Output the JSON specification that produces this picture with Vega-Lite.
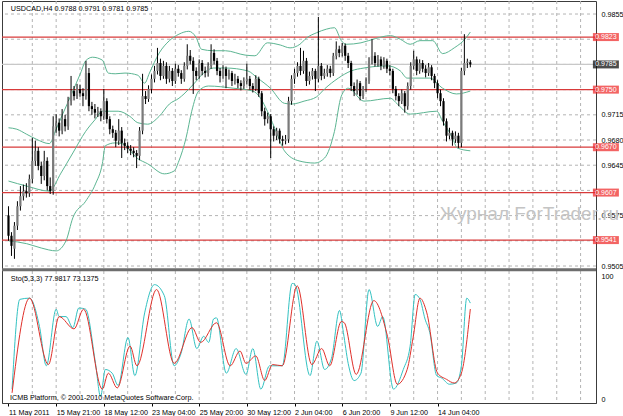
{
"$schema": "https://vega.github.io/schema/vega-lite/v6.json",
"padding": 0,
"background": "white",
"width": 594,
"height": 402,
"config": {"view": {"stroke": "#3c3c3c", "strokeWidth": 1}},
"resolve": {"scale": {"y": "independent"}, "axis": {"y": "independent", "x": "independent"}},
"datasets": {
"candles": [
{"i":0,"o":0.9575,"h":0.9588,"l":0.954,"c":0.9547},
{"i":1,"o":0.9547,"h":0.9552,"l":0.9519,"c":0.9533},
{"i":2,"o":0.9529,"h":0.9566,"l":0.9515,"c":0.9561},
{"i":3,"o":0.9561,"h":0.9595,"l":0.9555,"c":0.9588},
{"i":4,"o":0.9588,"h":0.9616,"l":0.9582,"c":0.9602},
{"i":5,"o":0.9602,"h":0.9618,"l":0.9596,"c":0.9609},
{"i":6,"o":0.9609,"h":0.962,"l":0.96,"c":0.9606},
{"i":7,"o":0.9606,"h":0.9632,"l":0.9601,"c":0.9626},
{"i":8,"o":0.9626,"h":0.9683,"l":0.962,"c":0.9651},
{"i":9,"o":0.9651,"h":0.9679,"l":0.9644,"c":0.9665},
{"i":10,"o":0.9665,"h":0.967,"l":0.9638,"c":0.9644},
{"i":11,"o":0.9644,"h":0.965,"l":0.9619,"c":0.963},
{"i":12,"o":0.963,"h":0.9665,"l":0.9624,"c":0.9651},
{"i":13,"o":0.9651,"h":0.9656,"l":0.961,"c":0.9616},
{"i":14,"o":0.9616,"h":0.9628,"l":0.9605,"c":0.9609},
{"i":15,"o":0.9609,"h":0.9713,"l":0.9604,"c":0.9699},
{"i":16,"o":0.9699,"h":0.9716,"l":0.969,"c":0.9704},
{"i":17,"o":0.9704,"h":0.971,"l":0.9685,"c":0.9693},
{"i":18,"o":0.9693,"h":0.9723,"l":0.9688,"c":0.9709},
{"i":19,"o":0.9709,"h":0.9715,"l":0.9692,"c":0.9699},
{"i":20,"o":0.9699,"h":0.974,"l":0.9694,"c":0.9734},
{"i":21,"o":0.9734,"h":0.9769,"l":0.9728,"c":0.9748},
{"i":22,"o":0.9748,"h":0.9755,"l":0.9735,"c":0.9741},
{"i":23,"o":0.9741,"h":0.9758,"l":0.9737,"c":0.9751},
{"i":24,"o":0.9751,"h":0.9757,"l":0.974,"c":0.9745},
{"i":25,"o":0.9745,"h":0.9752,"l":0.9727,"c":0.9741},
{"i":26,"o":0.9741,"h":0.979,"l":0.9736,"c":0.9773},
{"i":27,"o":0.9773,"h":0.978,"l":0.972,"c":0.9727},
{"i":28,"o":0.9727,"h":0.9733,"l":0.9715,"c":0.9723},
{"i":29,"o":0.9723,"h":0.973,"l":0.971,"c":0.9718},
{"i":30,"o":0.9718,"h":0.9726,"l":0.9712,"c":0.972},
{"i":31,"o":0.972,"h":0.9724,"l":0.9706,"c":0.9713},
{"i":32,"o":0.9713,"h":0.9751,"l":0.9708,"c":0.9734},
{"i":33,"o":0.9734,"h":0.9738,"l":0.9703,"c":0.9709},
{"i":34,"o":0.9709,"h":0.9713,"l":0.9688,"c":0.9695},
{"i":35,"o":0.9695,"h":0.97,"l":0.9683,"c":0.969},
{"i":36,"o":0.969,"h":0.9694,"l":0.967,"c":0.9679},
{"i":37,"o":0.9679,"h":0.9709,"l":0.9673,"c":0.9693},
{"i":38,"o":0.9693,"h":0.9698,"l":0.9655,"c":0.9676},
{"i":39,"o":0.9676,"h":0.9682,"l":0.9666,"c":0.9672},
{"i":40,"o":0.9672,"h":0.9677,"l":0.9662,"c":0.9668},
{"i":41,"o":0.9668,"h":0.9673,"l":0.9659,"c":0.9665},
{"i":42,"o":0.9665,"h":0.967,"l":0.9656,"c":0.9662},
{"i":43,"o":0.9662,"h":0.9666,"l":0.9641,"c":0.9658},
{"i":44,"o":0.9658,"h":0.9698,"l":0.9652,"c":0.9693},
{"i":45,"o":0.9693,"h":0.9772,"l":0.9688,"c":0.9741},
{"i":46,"o":0.9741,"h":0.9748,"l":0.973,"c":0.9737},
{"i":47,"o":0.9737,"h":0.9756,"l":0.9733,"c":0.9751},
{"i":48,"o":0.9751,"h":0.9771,"l":0.9745,"c":0.9765},
{"i":49,"o":0.9765,"h":0.9783,"l":0.976,"c":0.9776},
{"i":50,"o":0.9776,"h":0.9808,"l":0.9771,"c":0.9787},
{"i":51,"o":0.9787,"h":0.9793,"l":0.9763,"c":0.9769},
{"i":52,"o":0.9769,"h":0.979,"l":0.9765,"c":0.9783},
{"i":53,"o":0.9783,"h":0.9788,"l":0.9758,"c":0.9765},
{"i":54,"o":0.9765,"h":0.9783,"l":0.976,"c":0.9776},
{"i":55,"o":0.9776,"h":0.978,"l":0.9755,"c":0.9762},
{"i":56,"o":0.9762,"h":0.9786,"l":0.9758,"c":0.9779},
{"i":57,"o":0.9779,"h":0.9784,"l":0.9768,"c":0.9773},
{"i":58,"o":0.9773,"h":0.9777,"l":0.9758,"c":0.9765},
{"i":59,"o":0.9765,"h":0.9788,"l":0.9761,"c":0.9783},
{"i":60,"o":0.9783,"h":0.9813,"l":0.9778,"c":0.9797},
{"i":61,"o":0.9797,"h":0.9805,"l":0.9785,"c":0.979},
{"i":62,"o":0.979,"h":0.9795,"l":0.9744,"c":0.9776},
{"i":63,"o":0.9776,"h":0.9781,"l":0.9763,"c":0.9769},
{"i":64,"o":0.9769,"h":0.9792,"l":0.9765,"c":0.9787},
{"i":65,"o":0.9787,"h":0.9791,"l":0.977,"c":0.9776},
{"i":66,"o":0.9776,"h":0.9782,"l":0.9767,"c":0.9773},
{"i":67,"o":0.9773,"h":0.9788,"l":0.9768,"c":0.9783},
{"i":68,"o":0.9783,"h":0.9813,"l":0.9779,"c":0.9801},
{"i":69,"o":0.9801,"h":0.9806,"l":0.9785,"c":0.979},
{"i":70,"o":0.979,"h":0.9794,"l":0.977,"c":0.9776},
{"i":71,"o":0.9776,"h":0.978,"l":0.976,"c":0.9769},
{"i":72,"o":0.9769,"h":0.9784,"l":0.9765,"c":0.9779},
{"i":73,"o":0.9779,"h":0.9782,"l":0.9752,"c":0.9769},
{"i":74,"o":0.9769,"h":0.9778,"l":0.9764,"c":0.9773},
{"i":75,"o":0.9773,"h":0.9776,"l":0.9755,"c":0.9762},
{"i":76,"o":0.9762,"h":0.9772,"l":0.9757,"c":0.9765},
{"i":77,"o":0.9765,"h":0.9769,"l":0.9752,"c":0.9759},
{"i":78,"o":0.9759,"h":0.9763,"l":0.9749,"c":0.9755},
{"i":79,"o":0.9755,"h":0.9767,"l":0.9751,"c":0.9762},
{"i":80,"o":0.9762,"h":0.9786,"l":0.9757,"c":0.9765},
{"i":81,"o":0.9765,"h":0.9769,"l":0.975,"c":0.9755},
{"i":82,"o":0.9755,"h":0.9759,"l":0.9746,"c":0.9751},
{"i":83,"o":0.9751,"h":0.977,"l":0.9748,"c":0.9765},
{"i":84,"o":0.9765,"h":0.9768,"l":0.974,"c":0.9745},
{"i":85,"o":0.9745,"h":0.9748,"l":0.9713,"c":0.972},
{"i":86,"o":0.972,"h":0.9725,"l":0.97,"c":0.9709},
{"i":87,"o":0.9709,"h":0.9718,"l":0.9703,"c":0.9713},
{"i":88,"o":0.9713,"h":0.9716,"l":0.9655,"c":0.9695},
{"i":89,"o":0.9695,"h":0.9699,"l":0.9678,"c":0.9686},
{"i":90,"o":0.9686,"h":0.9697,"l":0.968,"c":0.9693},
{"i":91,"o":0.9693,"h":0.9696,"l":0.9675,"c":0.9681},
{"i":92,"o":0.9681,"h":0.9686,"l":0.9672,"c":0.9679},
{"i":93,"o":0.9679,"h":0.9687,"l":0.9674,"c":0.9681},
{"i":94,"o":0.9681,"h":0.974,"l":0.9676,"c":0.9734},
{"i":95,"o":0.9734,"h":0.977,"l":0.9729,"c":0.9765},
{"i":96,"o":0.9765,"h":0.9779,"l":0.9758,"c":0.9773},
{"i":97,"o":0.9773,"h":0.9788,"l":0.9768,"c":0.9783},
{"i":98,"o":0.9783,"h":0.9808,"l":0.977,"c":0.9776},
{"i":99,"o":0.9776,"h":0.9804,"l":0.9772,"c":0.979},
{"i":100,"o":0.979,"h":0.9794,"l":0.9755,"c":0.9762},
{"i":101,"o":0.9762,"h":0.9775,"l":0.9757,"c":0.9769},
{"i":102,"o":0.9769,"h":0.978,"l":0.9764,"c":0.9776},
{"i":103,"o":0.9776,"h":0.9779,"l":0.9748,"c":0.9765},
{"i":104,"o":0.9765,"h":0.9851,"l":0.976,"c":0.9783},
{"i":105,"o":0.9783,"h":0.9787,"l":0.9763,"c":0.9769},
{"i":106,"o":0.9769,"h":0.9779,"l":0.9765,"c":0.9773},
{"i":107,"o":0.9773,"h":0.9784,"l":0.9768,"c":0.9779},
{"i":108,"o":0.9779,"h":0.9783,"l":0.9767,"c":0.9773},
{"i":109,"o":0.9773,"h":0.9801,"l":0.9769,"c":0.9797},
{"i":110,"o":0.9797,"h":0.9817,"l":0.9792,"c":0.9806},
{"i":111,"o":0.9806,"h":0.9811,"l":0.9795,"c":0.9801},
{"i":112,"o":0.9801,"h":0.9815,"l":0.9796,"c":0.9811},
{"i":113,"o":0.9811,"h":0.9814,"l":0.979,"c":0.9797},
{"i":114,"o":0.9797,"h":0.9801,"l":0.978,"c":0.9787},
{"i":115,"o":0.9787,"h":0.979,"l":0.9748,"c":0.9755},
{"i":116,"o":0.9755,"h":0.976,"l":0.9741,"c":0.9748},
{"i":117,"o":0.9748,"h":0.9764,"l":0.9743,"c":0.9759},
{"i":118,"o":0.9759,"h":0.9762,"l":0.9735,"c":0.9741},
{"i":119,"o":0.9741,"h":0.9755,"l":0.9737,"c":0.9751},
{"i":120,"o":0.9751,"h":0.9767,"l":0.9747,"c":0.9762},
{"i":121,"o":0.9762,"h":0.9795,"l":0.9758,"c":0.979},
{"i":122,"o":0.979,"h":0.982,"l":0.9785,"c":0.9797},
{"i":123,"o":0.9797,"h":0.9802,"l":0.9782,"c":0.9787},
{"i":124,"o":0.9787,"h":0.9798,"l":0.9782,"c":0.9792},
{"i":125,"o":0.9792,"h":0.9796,"l":0.9777,"c":0.9783},
{"i":126,"o":0.9783,"h":0.9795,"l":0.9779,"c":0.979},
{"i":127,"o":0.979,"h":0.9793,"l":0.9773,"c":0.9779},
{"i":128,"o":0.9779,"h":0.9784,"l":0.977,"c":0.9776},
{"i":129,"o":0.9776,"h":0.9779,"l":0.9745,"c":0.9751},
{"i":130,"o":0.9751,"h":0.9755,"l":0.9735,"c":0.9741},
{"i":131,"o":0.9741,"h":0.9745,"l":0.9727,"c":0.9734},
{"i":132,"o":0.9734,"h":0.975,"l":0.973,"c":0.9745},
{"i":133,"o":0.9745,"h":0.9748,"l":0.9718,"c":0.9727},
{"i":134,"o":0.9727,"h":0.976,"l":0.9722,"c":0.9755},
{"i":135,"o":0.9755,"h":0.9788,"l":0.975,"c":0.9783},
{"i":136,"o":0.9783,"h":0.9804,"l":0.9778,"c":0.9792},
{"i":137,"o":0.9792,"h":0.9796,"l":0.977,"c":0.9776},
{"i":138,"o":0.9776,"h":0.9792,"l":0.9772,"c":0.9787},
{"i":139,"o":0.9787,"h":0.9791,"l":0.9774,"c":0.9779},
{"i":140,"o":0.9779,"h":0.9784,"l":0.9767,"c":0.9773},
{"i":141,"o":0.9773,"h":0.9787,"l":0.9769,"c":0.9781},
{"i":142,"o":0.9781,"h":0.9784,"l":0.9763,"c":0.9769},
{"i":143,"o":0.9769,"h":0.9772,"l":0.9752,"c":0.9759},
{"i":144,"o":0.9759,"h":0.9763,"l":0.9738,"c":0.9745},
{"i":145,"o":0.9745,"h":0.975,"l":0.9727,"c":0.9734},
{"i":146,"o":0.9734,"h":0.9738,"l":0.97,"c":0.9706},
{"i":147,"o":0.9706,"h":0.971,"l":0.9678,"c":0.9686},
{"i":148,"o":0.9686,"h":0.9697,"l":0.9681,"c":0.969},
{"i":149,"o":0.969,"h":0.9693,"l":0.9672,"c":0.9681},
{"i":150,"o":0.9681,"h":0.9692,"l":0.9676,"c":0.9686},
{"i":151,"o":0.9686,"h":0.969,"l":0.9669,"c":0.9676},
{"i":152,"o":0.9676,"h":0.978,"l":0.967,"c":0.9776},
{"i":153,"o":0.9776,"h":0.9827,"l":0.977,"c":0.9787},
{"i":154,"o":0.9787,"h":0.9793,"l":0.978,"c":0.9789},
{"i":155,"o":0.9788,"h":0.9791,"l":0.9781,"c":0.9785}
],
"bands": [
{"i":0,"v":0.9697,"b":"u"},{"i":2.8,"v":0.9695,"b":"u"},{"i":6.1,"v":0.9688,"b":"u"},{"i":9.4,"v":0.9681,"b":"u"},{"i":13.7,"v":0.9675,"b":"u"},{"i":16,"v":0.9695,"b":"u"},{"i":18.3,"v":0.9717,"b":"u"},{"i":21.6,"v":0.9748,"b":"u"},{"i":24.2,"v":0.9773,"b":"u"},{"i":25.9,"v":0.979,"b":"u"},{"i":28.2,"v":0.9795,"b":"u"},{"i":31.5,"v":0.9791,"b":"u"},{"i":33.5,"v":0.9773,"b":"u"},{"i":35.8,"v":0.9772,"b":"u"},{"i":39.1,"v":0.9773,"b":"u"},{"i":43.4,"v":0.977,"b":"u"},{"i":45.7,"v":0.9759,"b":"u"},{"i":47.3,"v":0.9773,"b":"u"},{"i":50.6,"v":0.9801,"b":"u"},{"i":54,"v":0.9818,"b":"u"},{"i":57.2,"v":0.9827,"b":"u"},{"i":60.5,"v":0.9831,"b":"u"},{"i":62.9,"v":0.9823,"b":"u"},{"i":64.8,"v":0.9806,"b":"u"},{"i":68.8,"v":0.9804,"b":"u"},{"i":72.8,"v":0.9804,"b":"u"},{"i":79.4,"v":0.9798,"b":"u"},{"i":82.7,"v":0.9797,"b":"u"},{"i":86.9,"v":0.9815,"b":"u"},{"i":91.2,"v":0.9812,"b":"u"},{"i":94.5,"v":0.9808,"b":"u"},{"i":97.8,"v":0.9813,"b":"u"},{"i":100.1,"v":0.9822,"b":"u"},{"i":103.4,"v":0.9829,"b":"u"},{"i":106.7,"v":0.9834,"b":"u"},{"i":109.4,"v":0.9836,"b":"u"},{"i":111.7,"v":0.9818,"b":"u"},{"i":113.3,"v":0.9813,"b":"u"},{"i":118.3,"v":0.9815,"b":"u"},{"i":123.2,"v":0.9821,"b":"u"},{"i":128.2,"v":0.9825,"b":"u"},{"i":131.5,"v":0.982,"b":"u"},{"i":134.8,"v":0.9813,"b":"u"},{"i":138.1,"v":0.9818,"b":"u"},{"i":142.4,"v":0.9818,"b":"u"},{"i":145.7,"v":0.98,"b":"u"},{"i":149.6,"v":0.9808,"b":"u"},{"i":153.6,"v":0.9822,"b":"u"},{"i":155,"v":0.983,"b":"u"},
{"i":0,"v":0.9623,"b":"m"},{"i":6.1,"v":0.9616,"b":"m"},{"i":13.7,"v":0.9609,"b":"m"},{"i":17.6,"v":0.9634,"b":"m"},{"i":21.6,"v":0.9662,"b":"m"},{"i":25.9,"v":0.9692,"b":"m"},{"i":29.2,"v":0.9709,"b":"m"},{"i":31.5,"v":0.972,"b":"m"},{"i":36.8,"v":0.972,"b":"m"},{"i":40.7,"v":0.9713,"b":"m"},{"i":43.4,"v":0.9704,"b":"m"},{"i":46.7,"v":0.9702,"b":"m"},{"i":50.6,"v":0.9713,"b":"m"},{"i":54,"v":0.973,"b":"m"},{"i":57.2,"v":0.9738,"b":"m"},{"i":58.9,"v":0.9744,"b":"m"},{"i":62.2,"v":0.9758,"b":"m"},{"i":65.5,"v":0.9773,"b":"m"},{"i":68.8,"v":0.978,"b":"m"},{"i":72.8,"v":0.978,"b":"m"},{"i":80.3,"v":0.9776,"b":"m"},{"i":83.6,"v":0.9766,"b":"m"},{"i":87.9,"v":0.9752,"b":"m"},{"i":92.6,"v":0.9731,"b":"m"},{"i":95.2,"v":0.973,"b":"m"},{"i":99.2,"v":0.9734,"b":"m"},{"i":103.4,"v":0.974,"b":"m"},{"i":106.1,"v":0.9751,"b":"m"},{"i":110.7,"v":0.9766,"b":"m"},{"i":115,"v":0.9776,"b":"m"},{"i":119.3,"v":0.978,"b":"m"},{"i":127.2,"v":0.9783,"b":"m"},{"i":131.5,"v":0.9776,"b":"m"},{"i":133.8,"v":0.9766,"b":"m"},{"i":141.4,"v":0.9766,"b":"m"},{"i":145.7,"v":0.9752,"b":"m"},{"i":150.3,"v":0.9744,"b":"m"},{"i":155,"v":0.9748,"b":"m"},
{"i":0,"v":0.954,"b":"d"},{"i":6.1,"v":0.9536,"b":"d"},{"i":11,"v":0.953,"b":"d"},{"i":16,"v":0.9526,"b":"d"},{"i":19.3,"v":0.954,"b":"d"},{"i":21.6,"v":0.9572,"b":"d"},{"i":25.9,"v":0.9595,"b":"d"},{"i":29.2,"v":0.9619,"b":"d"},{"i":31.5,"v":0.9647,"b":"d"},{"i":32.5,"v":0.9672,"b":"d"},{"i":35.8,"v":0.9676,"b":"d"},{"i":38.1,"v":0.9675,"b":"d"},{"i":43.4,"v":0.9654,"b":"d"},{"i":46.7,"v":0.9647,"b":"d"},{"i":52.3,"v":0.9633,"b":"d"},{"i":55.6,"v":0.9637,"b":"d"},{"i":57.2,"v":0.9651,"b":"d"},{"i":59.6,"v":0.9683,"b":"d"},{"i":61.5,"v":0.972,"b":"d"},{"i":63.8,"v":0.9748,"b":"d"},{"i":67.1,"v":0.9755,"b":"d"},{"i":75.4,"v":0.9752,"b":"d"},{"i":82,"v":0.9748,"b":"d"},{"i":84.6,"v":0.9738,"b":"d"},{"i":86.9,"v":0.972,"b":"d"},{"i":90.2,"v":0.9688,"b":"d"},{"i":92.6,"v":0.9665,"b":"d"},{"i":97.5,"v":0.9651,"b":"d"},{"i":102.8,"v":0.9648,"b":"d"},{"i":106.1,"v":0.9655,"b":"d"},{"i":109.4,"v":0.9692,"b":"d"},{"i":111.7,"v":0.9741,"b":"d"},{"i":114,"v":0.9752,"b":"d"},{"i":119.3,"v":0.9734,"b":"d"},{"i":128.2,"v":0.9738,"b":"d"},{"i":130.5,"v":0.973,"b":"d"},{"i":134.8,"v":0.9716,"b":"d"},{"i":143.7,"v":0.972,"b":"d"},{"i":145.7,"v":0.9706,"b":"d"},{"i":149,"v":0.9683,"b":"d"},{"i":150.6,"v":0.9669,"b":"d"},{"i":155,"v":0.9665,"b":"d"}
],
"stoch": [
{"i":1.2,"v":8,"s":"main"},{"i":3.8,"v":81,"s":"main"},{"i":7.1,"v":82,"s":"main"},{"i":10.4,"v":59,"s":"main"},{"i":12.7,"v":27,"s":"main"},{"i":16,"v":73,"s":"main"},{"i":17,"v":67,"s":"main"},{"i":19.3,"v":67,"s":"main"},{"i":21.6,"v":58,"s":"main"},{"i":23.6,"v":74,"s":"main"},{"i":25.9,"v":73,"s":"main"},{"i":29.2,"v":29,"s":"main"},{"i":30.9,"v":2,"s":"main"},{"i":32.5,"v":24,"s":"main"},{"i":34.8,"v":21,"s":"main"},{"i":36.8,"v":11,"s":"main"},{"i":40.1,"v":50,"s":"main"},{"i":42.4,"v":19,"s":"main"},{"i":45.7,"v":70,"s":"main"},{"i":49,"v":93,"s":"main"},{"i":52.3,"v":84,"s":"main"},{"i":55.6,"v":27,"s":"main"},{"i":57.9,"v":37,"s":"main"},{"i":60.6,"v":65,"s":"main"},{"i":63.2,"v":41,"s":"main"},{"i":65.5,"v":51,"s":"main"},{"i":67.2,"v":46,"s":"main"},{"i":68.8,"v":65,"s":"main"},{"i":69.8,"v":66,"s":"main"},{"i":73.1,"v":21,"s":"main"},{"i":76.4,"v":41,"s":"main"},{"i":79.7,"v":20,"s":"main"},{"i":82,"v":41,"s":"main"},{"i":84.7,"v":8,"s":"main"},{"i":87.6,"v":27,"s":"main"},{"i":91.9,"v":27,"s":"main"},{"i":95.2,"v":94,"s":"main"},{"i":96.2,"v":93,"s":"main"},{"i":101.2,"v":19,"s":"main"},{"i":103.5,"v":47,"s":"main"},{"i":106.1,"v":24,"s":"main"},{"i":108.4,"v":33,"s":"main"},{"i":111.1,"v":72,"s":"main"},{"i":112.4,"v":54,"s":"main"},{"i":114,"v":29,"s":"main"},{"i":116,"v":15,"s":"main"},{"i":118.3,"v":21,"s":"main"},{"i":121,"v":89,"s":"main"},{"i":123.9,"v":59,"s":"main"},{"i":125.6,"v":67,"s":"main"},{"i":129.2,"v":8,"s":"main"},{"i":132.5,"v":24,"s":"main"},{"i":134.8,"v":43,"s":"main"},{"i":136.5,"v":85,"s":"main"},{"i":138.1,"v":81,"s":"main"},{"i":139.8,"v":65,"s":"main"},{"i":141.4,"v":54,"s":"main"},{"i":143.7,"v":19,"s":"main"},{"i":145.4,"v":17,"s":"main"},{"i":148,"v":12,"s":"main"},{"i":150.3,"v":13,"s":"main"},{"i":152,"v":27,"s":"main"},{"i":153.8,"v":82,"s":"main"},{"i":155,"v":77.98,"s":"main"},
{"i":1.2,"v":5,"s":"signal"},{"i":7.1,"v":82,"s":"signal"},{"i":13.4,"v":28,"s":"signal"},{"i":17,"v":67,"s":"signal"},{"i":22,"v":57,"s":"signal"},{"i":25.2,"v":73,"s":"signal"},{"i":31.5,"v":8,"s":"signal"},{"i":33.5,"v":21,"s":"signal"},{"i":36.5,"v":9,"s":"signal"},{"i":40.8,"v":43,"s":"signal"},{"i":43.1,"v":27,"s":"signal"},{"i":49.7,"v":89,"s":"signal"},{"i":55.6,"v":29,"s":"signal"},{"i":61.6,"v":58,"s":"signal"},{"i":64.5,"v":46,"s":"signal"},{"i":69.8,"v":62,"s":"signal"},{"i":74.4,"v":27,"s":"signal"},{"i":77.7,"v":39,"s":"signal"},{"i":79.7,"v":29,"s":"signal"},{"i":83,"v":35,"s":"signal"},{"i":86,"v":15,"s":"signal"},{"i":88.6,"v":28,"s":"signal"},{"i":91.9,"v":27,"s":"signal"},{"i":96.9,"v":92,"s":"signal"},{"i":101.8,"v":28,"s":"signal"},{"i":105.1,"v":41,"s":"signal"},{"i":107.8,"v":27,"s":"signal"},{"i":111.7,"v":63,"s":"signal"},{"i":112.7,"v":62,"s":"signal"},{"i":116.7,"v":20,"s":"signal"},{"i":122.6,"v":80,"s":"signal"},{"i":127.2,"v":51,"s":"signal"},{"i":130.5,"v":12,"s":"signal"},{"i":133.8,"v":24,"s":"signal"},{"i":135.8,"v":50,"s":"signal"},{"i":138.1,"v":82,"s":"signal"},{"i":140.4,"v":70,"s":"signal"},{"i":144,"v":21,"s":"signal"},{"i":147,"v":16,"s":"signal"},{"i":149.6,"v":13,"s":"signal"},{"i":152,"v":21,"s":"signal"},{"i":155,"v":73.14,"s":"signal"}
],
"levels": [
{"lvl":0.9785,"kind":"bid"},
{"lvl":0.9823,"kind":"red"},
{"lvl":0.975,"kind":"red"},
{"lvl":0.967,"kind":"red"},
{"lvl":0.9607,"kind":"red"},
{"lvl":0.9541,"kind":"red"}
],
"grid": [
{"i":8},{"i":16},{"i":24},{"i":32},{"i":40},{"i":48},{"i":56},{"i":64},{"i":72},{"i":80},{"i":88},{"i":96},{"i":104},{"i":112},{"i":120},{"i":128},{"i":136},{"i":144},{"i":152},{"i":160},{"i":168},{"i":176},{"i":184},{"i":192}
],
"yticks": [
{"p":0.9505},{"p":0.954},{"p":0.9575},{"p":0.961},{"p":0.9645},{"p":0.968},{"p":0.9715},{"p":0.975},{"p":0.9785},{"p":0.982},{"p":0.9855}
]
},
"layer": [
{
"data": {"name": "grid"},
"mark": {"type": "rule", "color": "#b4b4b4", "strokeDash": [3, 3], "strokeWidth": 1},
"encoding": {
"x": {"field": "i", "type": "quantitative", "scale": {"domain": [-0.5, 195.5], "nice": false, "zero": false},
"axis": {"orient": "bottom", "values": [0, 16, 32, 48, 64, 80, 96, 112, 128, 144],
"labelExpr": "datum.value == 0 ? '11 May 2011' : datum.value == 16 ? '15 May 21:00' : datum.value == 32 ? '18 May 12:00' : datum.value == 48 ? '23 May 04:00' : datum.value == 64 ? '25 May 20:00' : datum.value == 80 ? '30 May 12:00' : datum.value == 96 ? '2 Jun 04:00' : datum.value == 112 ? '6 Jun 20:00' : datum.value == 128 ? '9 Jun 12:00' : '14 Jun 04:00'",
"labelAlign": "left", "labelPadding": 2, "tickSize": 3, "tickColor": "#000000", "domainColor": "#3c3c3c", "grid": false, "title": null, "labelFlush": false, "labelOverlap": false, "labelBound": false,
"labelFont": "Liberation Sans", "labelFontSize": 7.2, "labelColor": "#000000"}}
}
},
{
"data": {"name": "yticks"},
"mark": {"type": "rule", "color": "#b4b4b4", "strokeDash": [3, 3], "strokeWidth": 1},
"encoding": {
"y": {"field": "p", "type": "quantitative", "scale": {"domain": [0.93147, 0.98731], "nice": false, "zero": false},
"axis": {"orient": "right", "values": [0.9505, 0.9575, 0.9645, 0.968, 0.9715, 0.9855], "format": ".4f",
"grid": false, "ticks": false, "domain": false, "labelPadding": 5, "labelBaseline": "middle", "title": null,
"labelFont": "Liberation Sans", "labelFontSize": 7.2, "labelColor": "#000000"}}
}
},
{
"data": {"name": "levels"},
"mark": {"type": "rule", "strokeWidth": 1.2},
"encoding": {
"y": {"field": "lvl", "type": "quantitative", "scale": {"domain": [0.93147, 0.98731], "nice": false, "zero": false}, "axis": null},
"color": {"condition": {"test": "datum.kind == 'bid'", "value": "#c8c8c8"}, "value": "#d83a3a"}
}
},
{
"data": {"name": "bands"},
"mark": {"type": "line", "strokeWidth": 1, "color": "#5cb592", "interpolate": "monotone"},
"encoding": {
"x": {"field": "i", "type": "quantitative", "scale": {"domain": [-0.5, 195.5], "nice": false, "zero": false}, "axis": null},
"y": {"field": "v", "type": "quantitative", "scale": {"domain": [0.93147, 0.98731], "nice": false, "zero": false}, "axis": null},
"detail": {"field": "b"}
}
},
{
"data": {"name": "candles"},
"mark": {"type": "rule", "color": "#000000", "strokeWidth": 1},
"encoding": {
"x": {"field": "i", "type": "quantitative", "scale": {"domain": [-0.5, 195.5], "nice": false, "zero": false}, "axis": null},
"y": {"field": "l", "type": "quantitative", "scale": {"domain": [0.93147, 0.98731], "nice": false, "zero": false}, "axis": null},
"y2": {"field": "h"}
}
},
{
"data": {"name": "candles"},
"mark": {"type": "bar", "size": 2.2},
"encoding": {
"x": {"field": "i", "type": "quantitative", "scale": {"domain": [-0.5, 195.5], "nice": false, "zero": false}, "axis": null},
"y": {"field": "o", "type": "quantitative", "scale": {"domain": [0.93147, 0.98731], "nice": false, "zero": false}, "axis": null},
"y2": {"field": "c"},
"color": {"condition": {"test": "datum.c >= datum.o", "value": "#7a7a7a"}, "value": "#000000"}
}
},
{
"data": {"name": "levels"},
"mark": {"type": "tick", "orient": "horizontal", "size": 26, "thickness": 8},
"encoding": {
"x": {"datum": 200.5, "type": "quantitative", "scale": {"domain": [-0.5, 195.5], "nice": false, "zero": false}, "axis": null},
"y": {"field": "lvl", "type": "quantitative", "scale": {"domain": [0.93147, 0.98731], "nice": false, "zero": false}, "axis": null},
"color": {"condition": {"test": "datum.kind == 'bid'", "value": "#000000"}, "value": "#ee2222"}
}
},
{
"data": {"name": "levels"},
"mark": {"type": "text", "color": "#ffffff", "fontSize": 7, "font": "Liberation Sans", "align": "center", "baseline": "middle"},
"encoding": {
"x": {"datum": 200.5, "type": "quantitative", "scale": {"domain": [-0.5, 195.5], "nice": false, "zero": false}, "axis": null},
"y": {"field": "lvl", "type": "quantitative", "scale": {"domain": [0.93147, 0.98731], "nice": false, "zero": false}, "axis": null},
"text": {"field": "lvl", "type": "quantitative", "format": ".4f"}
}
},
{
"data": {"values": [{"t": "USDCAD,H4  0.9788 0.9791 0.9781 0.9785"}]},
"mark": {"type": "text", "color": "#000000", "fontSize": 7.2, "font": "Liberation Sans", "align": "left", "baseline": "middle"},
"encoding": {
"x": {"datum": 0.8, "type": "quantitative", "scale": {"domain": [-0.5, 195.5], "nice": false, "zero": false}, "axis": null},
"y": {"datum": 0.9862, "type": "quantitative", "scale": {"domain": [0.93147, 0.98731], "nice": false, "zero": false}, "axis": null},
"text": {"field": "t"}
}
},
{
"data": {"values": [{"t": "Журнал ForTrader.ru"}]},
"mark": {"type": "text", "color": "#c4c4c4", "fontSize": 19, "font": "Liberation Sans", "align": "left", "baseline": "middle"},
"encoding": {
"x": {"datum": 144.7, "type": "quantitative", "scale": {"domain": [-0.5, 195.5], "nice": false, "zero": false}, "axis": null},
"y": {"datum": 0.9577, "type": "quantitative", "scale": {"domain": [0.93147, 0.98731], "nice": false, "zero": false}, "axis": null},
"text": {"field": "t"}
}
},
{
"data": {"values": [{"t": "separator"}]},
"mark": {"type": "rule", "color": "#6e6e6e", "strokeWidth": 3},
"encoding": {
"y": {"datum": 0.94997, "type": "quantitative", "scale": {"domain": [0.93147, 0.98731], "nice": false, "zero": false}, "axis": null}
}
},
{
"data": {"name": "stoch"},
"mark": {"type": "line", "strokeWidth": 1, "interpolate": "monotone"},
"encoding": {
"x": {"field": "i", "type": "quantitative", "scale": {"domain": [-0.5, 195.5], "nice": false, "zero": false}, "axis": null},
"y": {"field": "v", "type": "quantitative", "scale": {"domain": [-3.25, 323.58], "nice": false, "zero": false},
"axis": {"orient": "right", "values": [0, 100], "ticks": false, "domain": false, "grid": false, "labelPadding": 5, "labelBaseline": "middle", "title": null,
"labelFont": "Liberation Sans", "labelFontSize": 7.2, "labelColor": "#000000"}},
"color": {"field": "s", "type": "nominal", "scale": {"domain": ["main", "signal"], "range": ["#33c2c2", "#e0302a"]}, "legend": null}
}
},
{
"data": {"values": [{"t": "Sto(5,3,3) 77.9817 73.1375"}]},
"mark": {"type": "text", "color": "#000000", "fontSize": 7.2, "font": "Liberation Sans", "align": "left", "baseline": "middle"},
"encoding": {
"x": {"datum": 0.8, "type": "quantitative", "scale": {"domain": [-0.5, 195.5], "nice": false, "zero": false}, "axis": null},
"y": {"datum": 97.5, "type": "quantitative", "scale": {"domain": [-3.25, 323.58], "nice": false, "zero": false}, "axis": null},
"text": {"field": "t"}
}
},
{
"data": {"values": [{"t": "ICMB Platform, © 2001-2010 MetaQuotes Software Corp."}]},
"mark": {"type": "text", "color": "#000000", "fontSize": 7.2, "font": "Liberation Sans", "align": "left", "baseline": "middle"},
"encoding": {
"x": {"datum": 0.5, "type": "quantitative", "scale": {"domain": [-0.5, 195.5], "nice": false, "zero": false}, "axis": null},
"y": {"datum": 0.8, "type": "quantitative", "scale": {"domain": [-3.25, 323.58], "nice": false, "zero": false}, "axis": null},
"text": {"field": "t"}
}
}
]
}
